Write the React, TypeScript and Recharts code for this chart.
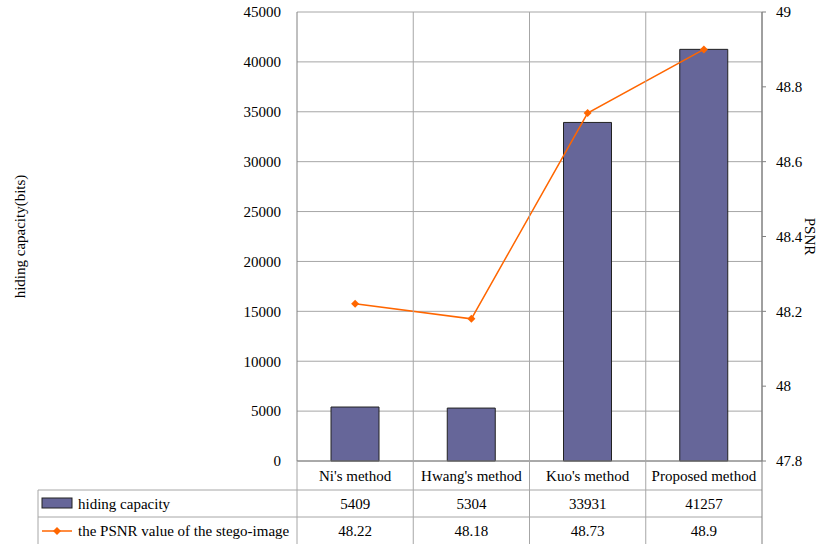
import { Bar, CartesianGrid, ComposedChart, Line, XAxis, YAxis } from "recharts";

const methods = ["Ni's method", "Hwang's method", "Kuo's method", "Proposed method"];
const hidingCapacity = [5409, 5304, 33931, 41257];
const psnrValues = [48.22, 48.18, 48.73, 48.9];
const capacityTicks = [0, 5000, 10000, 15000, 20000, 25000, 30000, 35000, 40000, 45000];
const psnrTicks = [47.8, 48, 48.2, 48.4, 48.6, 48.8, 49];
const rowLabels = ["hiding capacity", "the PSNR value of the stego-image"];

const data = methods.map((method, i) => ({
  method,
  capacity: hidingCapacity[i],
  psnr: psnrValues[i],
}));

const W = 827;
const H = 544;
const PLOT_LEFT = 297;
const PLOT_RIGHT = 762;
const PLOT_TOP = 12;
const PLOT_BOTTOM = 461;
const BAND = (PLOT_RIGHT - PLOT_LEFT) / methods.length;
const TABLE_LEFT = 38;
const ROW_LINES = [490, 517];
const ROW_CENTERS = [476, 504, 531];

const barColor = "#666699";
const lineColor = "#ff6600";
const gridColor = "#a6a6a6";
const axisColor = "#808080";
const font = "Liberation Serif";
const fs = 15;

function Diamond({ cx, cy }: any) {
  if (cx == null || cy == null) return null;
  return <path d={`M${cx},${cy - 4}L${cx + 4},${cy}L${cx},${cy + 4}L${cx - 4},${cy}Z`} fill={lineColor} />;
}

function Cell({ x, y, children, anchor = "middle" }: any) {
  return (
    <text x={x} y={y} textAnchor={anchor} dominantBaseline="central" fontSize={fs} fontFamily={font} fill="#000">
      {children}
    </text>
  );
}

function TableTick({ x, index, payload }: any) {
  const right = x + BAND / 2;
  const left = x - BAND / 2;
  return (
    <g>
      <line x1={right} y1={PLOT_TOP} x2={right} y2={H} stroke={index === methods.length - 1 ? axisColor : gridColor} />
      {index === 0 && (
        <g>
          <line x1={left} y1={PLOT_BOTTOM} x2={left} y2={H} stroke={gridColor} />
          <line x1={TABLE_LEFT} y1={ROW_LINES[0]} x2={TABLE_LEFT} y2={H} stroke={gridColor} />
          {ROW_LINES.map((y) => (
            <line key={y} x1={TABLE_LEFT} y1={y} x2={PLOT_RIGHT} y2={y} stroke={gridColor} />
          ))}
          <rect x={42} y={ROW_CENTERS[1] - 6} width={30} height={10} fill={barColor} stroke="#222" />
          <line x1={42} y1={ROW_CENTERS[2]} x2={72} y2={ROW_CENTERS[2]} stroke={lineColor} strokeWidth={1.5} />
          <Diamond cx={57} cy={ROW_CENTERS[2]} />
          {rowLabels.map((label, i) => (
            <Cell key={label} x={78} y={ROW_CENTERS[i + 1]} anchor="start">
              {label}
            </Cell>
          ))}
        </g>
      )}
      <Cell x={x} y={ROW_CENTERS[0]}>{payload.value}</Cell>
      <Cell x={x} y={ROW_CENTERS[1]}>{hidingCapacity[index]}</Cell>
      <Cell x={x} y={ROW_CENTERS[2]}>{psnrValues[index]}</Cell>
    </g>
  );
}

const midY = (PLOT_TOP + PLOT_BOTTOM) / 2;

export default function App() {
  return (
    <div style={{ position: "absolute", left: 0, top: 0, width: W, height: H, background: "#fff", fontFamily: font }}>
      <ComposedChart
        width={W}
        height={H}
        data={data}
        margin={{ top: PLOT_TOP, right: 0, bottom: 0, left: 0 }}
        style={{ fontFamily: font }}
      >
        <CartesianGrid vertical={false} stroke={gridColor} yAxisId="cap" />
        <XAxis
          dataKey="method"
          height={H - PLOT_BOTTOM}
          tickLine={false}
          axisLine={{ stroke: axisColor }}
          tick={<TableTick />}
          interval={0}
        />
        <YAxis
          yAxisId="cap"
          width={PLOT_LEFT}
          domain={[0, 45000]}
          ticks={capacityTicks}
          tickLine={false}
          axisLine={{ stroke: axisColor }}
          tickMargin={10}
          tick={{ fontSize: fs, fill: "#000", fontFamily: font }}
          label={() => (
            <text x={20} y={midY} transform={`rotate(-90 20 ${midY})`} textAnchor="middle" dominantBaseline="central" fontSize={fs} fontFamily={font} fill="#000">
              hiding capacity(bits)
            </text>
          )}
        />
        <YAxis
          yAxisId="psnr"
          orientation="right"
          width={W - PLOT_RIGHT}
          domain={[47.8, 49]}
          ticks={psnrTicks}
          tickLine={{ stroke: axisColor }}
          tickSize={4}
          axisLine={{ stroke: axisColor }}
          tickMargin={10}
          tick={{ fontSize: fs, fill: "#000", fontFamily: font }}
          label={() => (
            <text x={810} y={midY} transform={`rotate(90 810 ${midY})`} textAnchor="middle" dominantBaseline="central" fontSize={fs} fontFamily={font} fill="#000">
              PSNR
            </text>
          )}
        />
        <Bar yAxisId="cap" dataKey="capacity" barSize={48} fill={barColor} stroke="#222" strokeWidth={1} isAnimationActive={false} />
        <Line
          yAxisId="psnr"
          dataKey="psnr"
          stroke={lineColor}
          strokeWidth={1.5}
          dot={<Diamond />}
          activeDot={false}
          isAnimationActive={false}
        />
      </ComposedChart>
    </div>
  );
}
